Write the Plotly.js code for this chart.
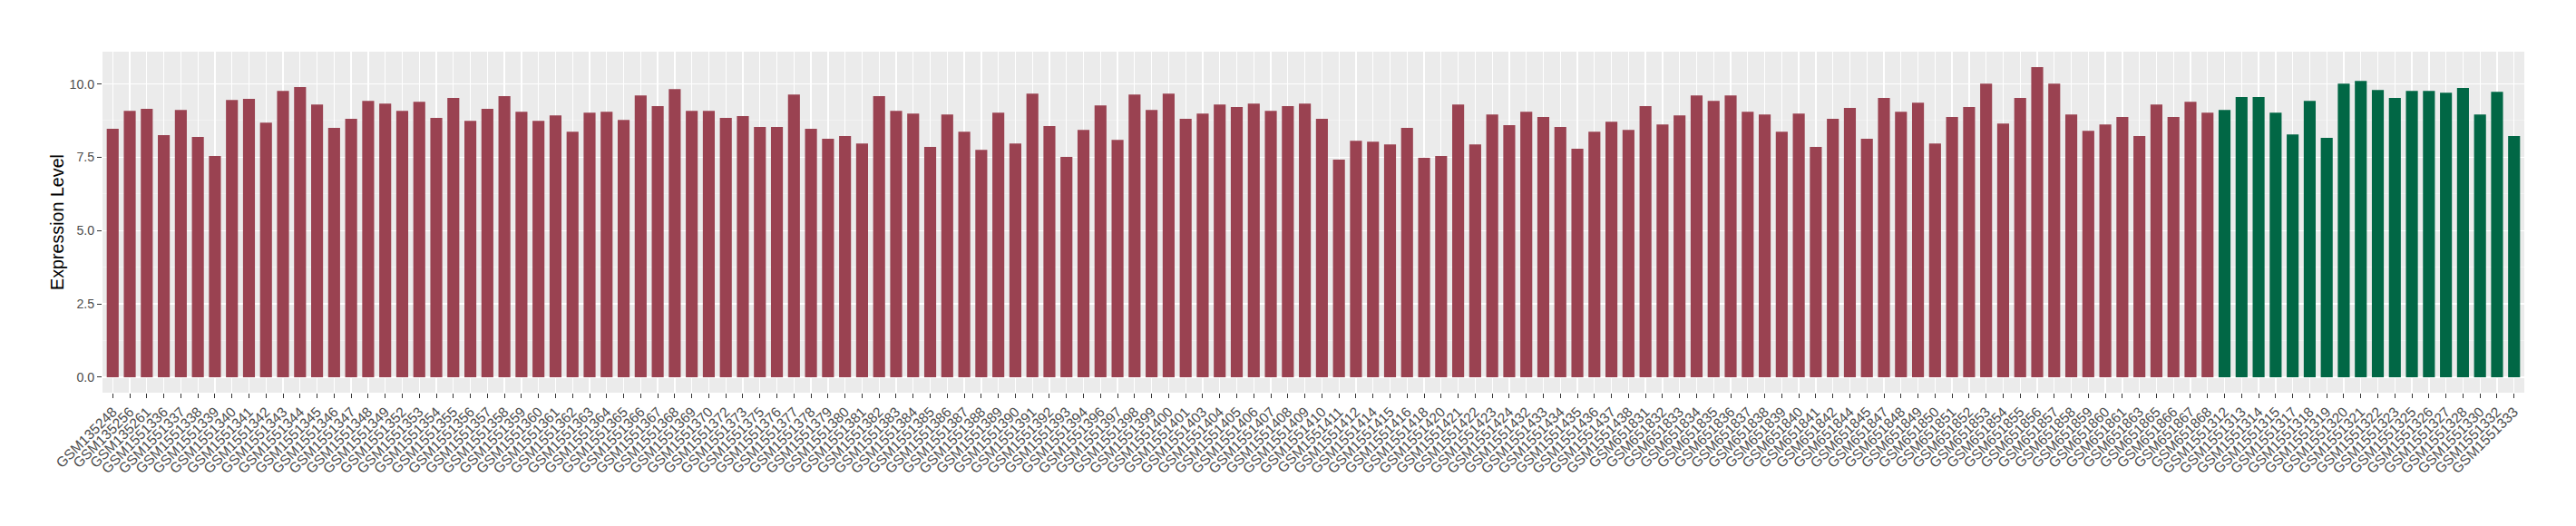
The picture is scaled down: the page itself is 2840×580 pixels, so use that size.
<!DOCTYPE html>
<html>
<head>
<meta charset="utf-8">
<script src="https://cdn.plot.ly/plotly-3.0.1.min.js"></script>
<style>
  html, body { margin: 0; padding: 0; background: #ffffff; }
  #chart { width: 2840px; height: 580px; }
</style>
</head>
<body>
<div id="chart"></div>
<script>
// Group 1 (red) samples
const groupASamples = [
  "GSM135248","GSM135256","GSM135261",
  "GSM1551336","GSM1551337","GSM1551338","GSM1551339","GSM1551340","GSM1551341","GSM1551342",
  "GSM1551343","GSM1551344","GSM1551345","GSM1551346","GSM1551347","GSM1551348","GSM1551349",
  "GSM1551352","GSM1551353","GSM1551354","GSM1551355","GSM1551356","GSM1551357","GSM1551358",
  "GSM1551359","GSM1551360","GSM1551361","GSM1551362","GSM1551363","GSM1551364","GSM1551365",
  "GSM1551366","GSM1551367","GSM1551368","GSM1551369","GSM1551370",
  "GSM1551372","GSM1551373",
  "GSM1551375","GSM1551376","GSM1551377","GSM1551378","GSM1551379","GSM1551380","GSM1551381",
  "GSM1551382","GSM1551383","GSM1551384","GSM1551385","GSM1551386","GSM1551387","GSM1551388",
  "GSM1551389","GSM1551390","GSM1551391","GSM1551392","GSM1551393","GSM1551394",
  "GSM1551396","GSM1551397","GSM1551398","GSM1551399","GSM1551400","GSM1551401",
  "GSM1551403","GSM1551404","GSM1551405","GSM1551406","GSM1551407","GSM1551408","GSM1551409",
  "GSM1551410","GSM1551411","GSM1551412",
  "GSM1551414","GSM1551415","GSM1551416",
  "GSM1551418",
  "GSM1551420","GSM1551421","GSM1551422","GSM1551423","GSM1551424",
  "GSM1551432","GSM1551433","GSM1551434","GSM1551435","GSM1551436","GSM1551437","GSM1551438",
  "GSM651831","GSM651832","GSM651833","GSM651834","GSM651835","GSM651836","GSM651837",
  "GSM651838","GSM651839","GSM651840","GSM651841","GSM651842",
  "GSM651844","GSM651845",
  "GSM651847","GSM651848","GSM651849","GSM651850","GSM651851","GSM651852","GSM651853",
  "GSM651854","GSM651855","GSM651856","GSM651857","GSM651858","GSM651859","GSM651860","GSM651861",
  "GSM651863",
  "GSM651865","GSM651866","GSM651867","GSM651868"
];
const groupAValues = [
  8.47, 9.08, 9.15,
  8.25, 9.11, 8.19, 7.54, 9.45, 9.49, 8.68,
  9.76, 9.89, 9.30, 8.50, 8.81, 9.42, 9.33,
  9.08, 9.39, 8.84, 9.52, 8.74, 9.15, 9.58,
  9.05, 8.74, 8.93, 8.37, 9.02, 9.05, 8.77,
  9.61, 9.24, 9.82, 9.08, 9.08,
  8.84, 8.90,
  8.53, 8.53, 9.64, 8.47, 8.13, 8.22, 7.97,
  9.58, 9.08, 8.99, 7.85, 8.96, 8.37, 7.75,
  9.02, 7.97, 9.67, 8.56, 7.51, 8.43,
  9.27, 8.09, 9.64, 9.11, 9.67, 8.81,
  8.99, 9.30, 9.21, 9.33, 9.08, 9.24, 9.33,
  8.81, 7.42, 8.06,
  8.03, 7.94, 8.50,
  7.48,
  7.54, 9.30, 7.94, 8.96, 8.59,
  9.05, 8.87, 8.53, 7.79, 8.37, 8.71, 8.43,
  9.24, 8.62, 8.93, 9.61, 9.42, 9.61, 9.05,
  8.96, 8.37, 8.99, 7.85, 8.81,
  9.18, 8.13,
  9.52, 9.05, 9.36, 7.97, 8.87, 9.21, 10.01,
  8.65, 9.52, 10.57, 10.01, 8.96, 8.40, 8.62, 8.87,
  8.22,
  9.30, 8.87, 9.39, 9.02
];

// Group 2 (green) samples
const groupBSamples = [
  "GSM1551312","GSM1551313","GSM1551314","GSM1551315","GSM1551317","GSM1551318","GSM1551319",
  "GSM1551320","GSM1551321","GSM1551322","GSM1551323","GSM1551325","GSM1551326","GSM1551327",
  "GSM1551328","GSM1551330","GSM1551332","GSM1551333"
];
const groupBValues = [
  9.11, 9.55, 9.55, 9.02, 8.28, 9.42, 8.16,
  10.01, 10.10, 9.79, 9.52, 9.76, 9.76, 9.70,
  9.86, 8.96, 9.73, 8.22
];

const yTickVals = [0, 2.5, 5, 7.5, 10];
const yTickText = ["0.0", "2.5", "5.0", "7.5", "10.0"];

const allSamples = groupASamples.concat(groupBSamples);
const allValues = groupAValues.concat(groupBValues);
const yMax = Math.max.apply(null, allValues);
const yPad = yMax * 0.05;
const n = allSamples.length;

const traces = [
  { type: "bar", x: groupASamples, y: groupAValues, marker: { color: "#9A4251" },
    width: 0.7, hoverinfo: "x+y", showlegend: false },
  { type: "bar", x: groupBSamples, y: groupBValues, marker: { color: "#016745" },
    width: 0.7, hoverinfo: "x+y", showlegend: false }
];

const layout = {
  width: 2840, height: 580,
  margin: { l: 112.5, r: 56.7, t: 56.7, b: 146.7, pad: 0 },
  paper_bgcolor: "#ffffff",
  plot_bgcolor: "#EBEBEB",
  barmode: "overlay",
  font: { family: "Liberation Sans, Arial, sans-serif", color: "#4D4D4D" },
  xaxis: {
    type: "category",
    categoryorder: "array",
    categoryarray: allSamples,
    tickmode: "array",
    tickvals: allSamples,
    ticktext: allSamples,
    range: [-0.6, n - 1 + 0.6],
    tickangle: -45,
    tickfont: { size: 15.5, color: "#4D4D4D" },
    ticks: "outside", ticklen: 5, tickwidth: 1, tickcolor: "#333333",
    showgrid: true, gridcolor: "#FFFFFF", gridwidth: 1.3,
    zeroline: false, showline: false, automargin: false, fixedrange: true
  },
  yaxis: {
    range: [-yPad, yMax + yPad],
    tickmode: "array",
    tickvals: yTickVals,
    ticktext: yTickText,
    tickfont: { size: 14.2, color: "#4D4D4D" },
    ticks: "outside", ticklen: 5, tickwidth: 1, tickcolor: "#333333",
    showgrid: true, gridcolor: "#FFFFFF", gridwidth: 1.3,
    minor: { tickmode: "array", tickvals: [1.25, 3.75, 6.25, 8.75], showgrid: true,
             gridcolor: "#F5F5F5", gridwidth: 0.7, ticks: "" },
    zeroline: false, showline: false, automargin: false, fixedrange: true,
    title: { text: "Expression Level", font: { size: 19.7, color: "#000000" }, standoff: 0 }
  }
};

Plotly.newPlot("chart", traces, layout, { displayModeBar: false, staticPlot: true });
</script>
</body>
</html>
